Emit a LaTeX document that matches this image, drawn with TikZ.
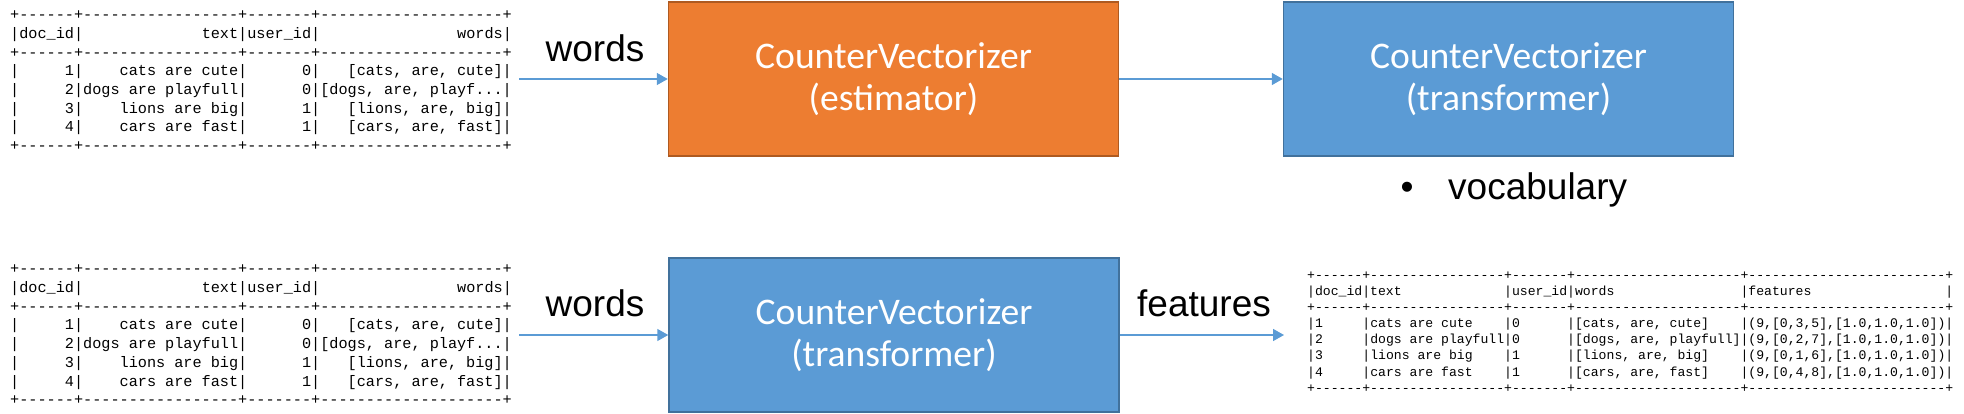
\documentclass[tikz,border=0pt]{standalone}
\usepackage{fontspec}
\setmainfont{Liberation Sans}
\setmonofont{Liberation Mono}
\newfontfamily\boxfont{Carlito}
\usetikzlibrary{arrows.meta}
\definecolor{orfill}{HTML}{ED7D31}
\definecolor{ordraw}{HTML}{AE5A21}
\definecolor{blfill}{HTML}{5B9BD5}
\definecolor{bldraw}{HTML}{41719C}
\definecolor{arrowc}{HTML}{5B9BD5}
\newcommand\gap[1]{\hspace*{#1\fontcharwd\font`0}}
\begin{document}
\begin{tikzpicture}[x=1pt,y=-1pt,
  procbox/.style={minimum width=450pt,minimum height=154pt,line width=1.5pt,
    text=white,align=center,inner sep=0pt,
    font=\boxfont\fontsize{37.6}{42}\selectfont},
  estbox/.style={procbox,fill=orfill,draw=ordraw},
  trbox/.style={procbox,fill=blfill,draw=bldraw},
  bigtable/.style={anchor=north west,inner sep=0pt,align=left,
    font=\ttfamily\fontsize{15.2}{18.7}\selectfont},
  smalltable/.style={anchor=north west,inner sep=0pt,align=left,
    font=\ttfamily\fontsize{13.13}{16.14}\selectfont},
  flow/.style={draw=arrowc,line width=1.5pt,-{Triangle[length=11pt,width=12pt]}},
  lbl/.style={anchor=base,inner sep=0pt,font=\fontsize{37}{40}\selectfont}
]
\path[use as bounding box] (0,0) rectangle (1964,414);

% boxes
\node[estbox] (est) at (893.5,79) {CounterVectorizer\\(estimator)};
\node[trbox] (tr1) at (1508.5,79) {CounterVectorizer\\(transformer)};
\node[trbox] (tr2) at (894,335) {CounterVectorizer\\(transformer)};

% top input table
\node[bigtable] (tab1) at (10,7.6) {\rule{0pt}{12pt}+------+-----------------+-------+--------------------+\\
|doc\_id|\gap{13}text|user\_id|\gap{15}words|\\
+------+-----------------+-------+--------------------+\\
|\gap{5}1|\gap{4}cats are cute|\gap{6}0|\gap{3}[cats, are, cute]|\\
|\gap{5}2|dogs are playfull|\gap{6}0|[dogs, are, playf...|\\
|\gap{5}3|\gap{4}lions are big|\gap{6}1|\gap{3}[lions, are, big]|\\
|\gap{5}4|\gap{4}cars are fast|\gap{6}1|\gap{3}[cars, are, fast]|\\
+------+-----------------+-------+--------------------+};

% bottom input table
\node[bigtable] (tab2) at (10,261.6) {\rule{0pt}{12pt}+------+-----------------+-------+--------------------+\\
|doc\_id|\gap{13}text|user\_id|\gap{15}words|\\
+------+-----------------+-------+--------------------+\\
|\gap{5}1|\gap{4}cats are cute|\gap{6}0|\gap{3}[cats, are, cute]|\\
|\gap{5}2|dogs are playfull|\gap{6}0|[dogs, are, playf...|\\
|\gap{5}3|\gap{4}lions are big|\gap{6}1|\gap{3}[lions, are, big]|\\
|\gap{5}4|\gap{4}cars are fast|\gap{6}1|\gap{3}[cars, are, fast]|\\
+------+-----------------+-------+--------------------+};

% output table
\node[smalltable] (ftab) at (1307,268) {\rule{0pt}{11pt}+------+-----------------+-------+---------------------+-------------------------+\\
|doc\_id|text\gap{13}|user\_id|words\gap{16}|features\gap{17}|\\
+------+-----------------+-------+---------------------+-------------------------+\\
|1\gap{5}|cats are cute\gap{4}|0\gap{6}|[cats, are, cute]\gap{4}|(9,[0,3,5],[1.0,1.0,1.0])|\\
|2\gap{5}|dogs are playfull|0\gap{6}|[dogs, are, playfull]|(9,[0,2,7],[1.0,1.0,1.0])|\\
|3\gap{5}|lions are big\gap{4}|1\gap{6}|[lions, are, big]\gap{4}|(9,[0,1,6],[1.0,1.0,1.0])|\\
|4\gap{5}|cars are fast\gap{4}|1\gap{6}|[cars, are, fast]\gap{4}|(9,[0,4,8],[1.0,1.0,1.0])|\\
+------+-----------------+-------+---------------------+-------------------------+};

% labels
\node[lbl] (w1) at (595,62) {words};
\node[lbl] (w2) at (595,316) {words};
\node[lbl] (feat) at (1204,316) {features};
\node[lbl] (bul) at (1407,200) {•};
\node[lbl,anchor=base west] (voc) at (1448,200) {vocabulary};

% connectors
\draw[flow,shorten <=7pt] (tab1.east |- est.west) -- (est.west);
\draw[flow] (est.east) -- (tr1.west);
\draw[flow,shorten <=7pt] (tab2.east |- tr2.west) -- (tr2.west);
\draw[flow,shorten >=23pt] (tr2.east) -- (tr2.east -| ftab.west);
\end{tikzpicture}
\end{document}
